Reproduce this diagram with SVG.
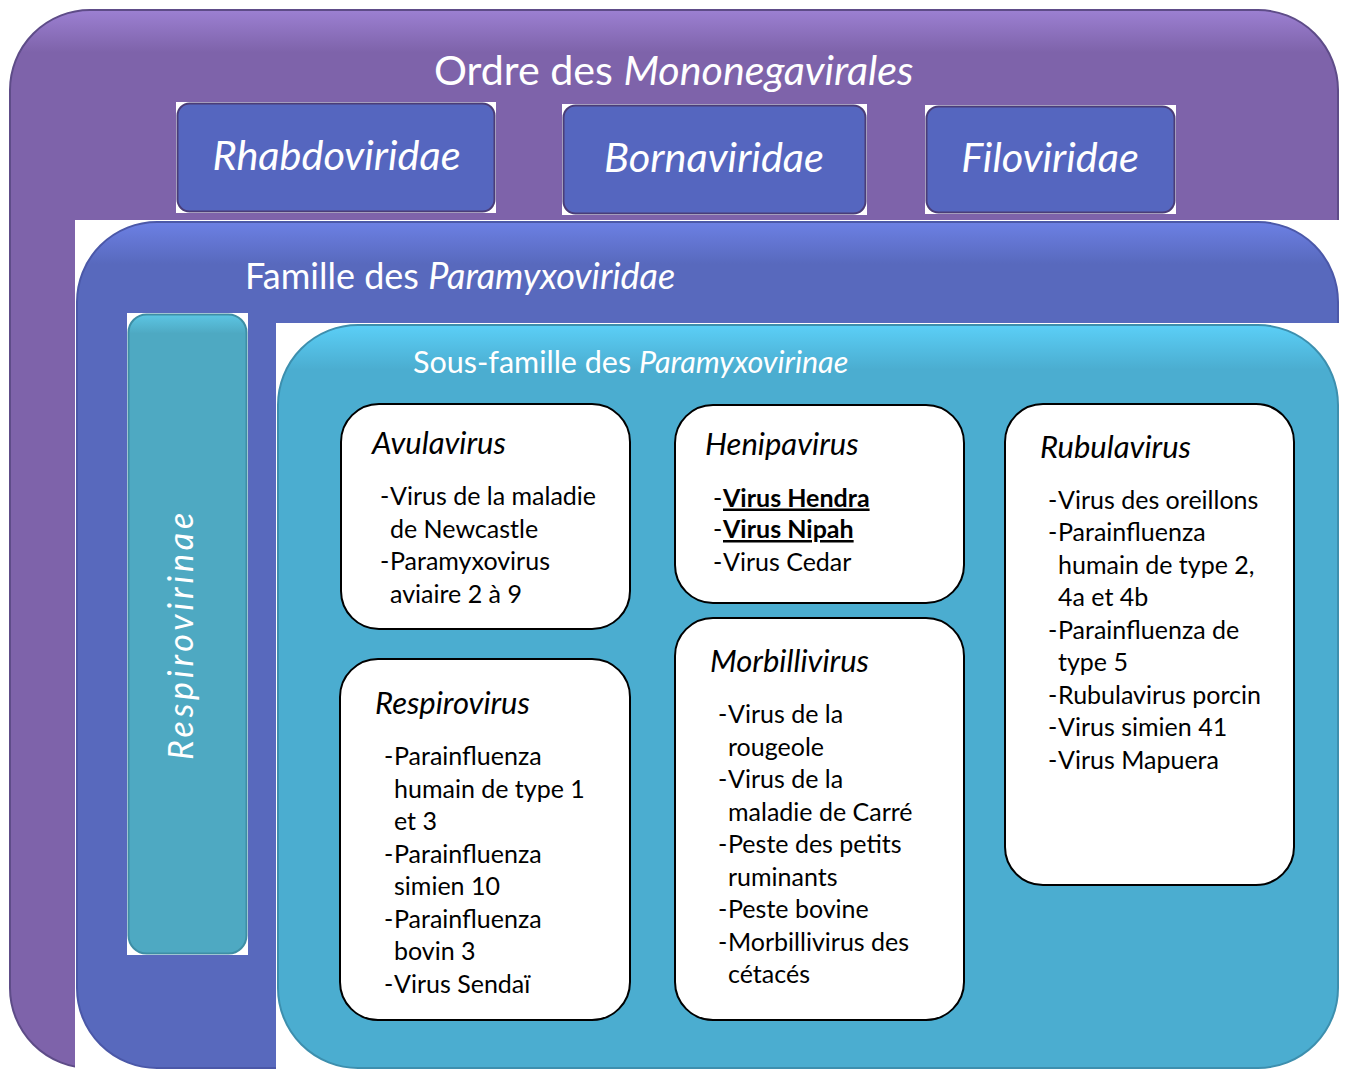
<svg xmlns="http://www.w3.org/2000/svg" width="1348" height="1070" viewBox="0 0 1348 1070">
<style>
text{font-family:Lato,"Liberation Sans",sans-serif}
.w{fill:#ffffff}
.k{fill:#000000}
.it{font-style:italic}
.h1{font-size:41.2px}
.h2{font-size:41.5px;font-style:italic}
.fam{font-size:36px}
.sub{font-size:30.5px}
.gen{font-size:31px;font-style:italic}
.body{font-size:25px}
.box{fill:#ffffff;stroke:#000000;stroke-width:2}
.hdr{fill:#5566BF;stroke:#4A3D78;stroke-width:2}
.bg{fill:#ffffff}
.u{font-weight:bold;text-decoration:underline}
</style>
<defs>
<linearGradient id="gP" x1="0" y1="0" x2="0" y2="1">
<stop offset="0" stop-color="#9C80D2"/><stop offset="0.04" stop-color="#7E63AA"/><stop offset="1" stop-color="#7E63AA"/>
</linearGradient>
<linearGradient id="gB" x1="0" y1="0" x2="0" y2="1">
<stop offset="0" stop-color="#6C80E4"/><stop offset="0.05" stop-color="#5869BD"/><stop offset="1" stop-color="#5869BD"/>
</linearGradient>
<linearGradient id="gT" x1="0" y1="0" x2="0" y2="1">
<stop offset="0" stop-color="#5BCFF7"/><stop offset="0.06" stop-color="#4BADD0"/><stop offset="1" stop-color="#4BADD0"/>
</linearGradient>
<linearGradient id="gR" x1="0" y1="0" x2="0" y2="1">
<stop offset="0" stop-color="#5CC6E4"/><stop offset="0.03" stop-color="#4EA9C2"/><stop offset="1" stop-color="#4EA9C2"/>
</linearGradient>
</defs>
<rect width="1348" height="1070" fill="#ffffff"/>

<g id="order">
<rect x="10" y="10" width="1328" height="1058" rx="80" fill="url(#gP)" stroke="#5E4C88" stroke-width="2"/>
<text class="w h1" x="434" y="85">Ordre des <tspan class="it">Mononegavirales</tspan></text>
</g>

<g id="rhabdoviridae">
<rect class="bg" x="176" y="102" width="320" height="111"/>
<rect class="hdr" x="177.5" y="103.5" width="317" height="108" rx="12"/>
<text class="w h2" x="336.5" y="170" text-anchor="middle">Rhabdoviridae</text>
</g>
<g id="bornaviridae">
<rect class="bg" x="562" y="104" width="305" height="111"/>
<rect class="hdr" x="563.5" y="105.5" width="302" height="108" rx="12"/>
<text class="w h2" x="714" y="172" text-anchor="middle">Bornaviridae</text>
</g>
<g id="filoviridae">
<rect class="bg" x="925" y="105" width="251" height="109"/>
<rect class="hdr" x="926.5" y="106.5" width="248" height="106" rx="12"/>
<text class="w h2" x="1050" y="172" text-anchor="middle">Filoviridae</text>
</g>

<g id="family">
<rect class="bg" x="75" y="220" width="1273" height="850"/>
<rect x="77" y="222" width="1261" height="846" rx="80" fill="url(#gB)" stroke="#4B58A8" stroke-width="2"/>
<text class="w fam" x="245" y="289">Famille des <tspan class="it">Paramyxoviridae</tspan></text>
</g>

<g id="respirovirinae">
<rect class="bg" x="127" y="313" width="121" height="642"/>
<rect x="128.5" y="314.5" width="118" height="639" rx="18" fill="url(#gR)" stroke="#3E8EA5" stroke-width="2"/>
<text class="w it" font-size="34" letter-spacing="3.8" transform="translate(193,760) rotate(-90)">Respirovirinae</text>
</g>

<g id="subfamily">
<rect class="bg" x="276" y="323" width="1072" height="747"/>
<rect x="278" y="325" width="1060" height="743" rx="80" fill="url(#gT)" stroke="#3D8FAE" stroke-width="2"/>
<text class="w sub" x="413" y="373">Sous-famille des <tspan class="it">Paramyxovirinae</tspan></text>
</g>

<g id="avulavirus">
<rect class="box" x="341" y="404" width="289" height="225" rx="38"/>
<text class="k gen" x="372" y="454">Avulavirus</text>
<text class="k body">
<tspan x="380" y="505">-</tspan><tspan x="390" y="505">Virus de la maladie</tspan>
<tspan x="390" y="537.5">de Newcastle</tspan>
<tspan x="380" y="570">-</tspan><tspan x="390" y="570">Paramyxovirus</tspan>
<tspan x="390" y="602.5">aviaire 2 à 9</tspan>
</text>
</g>

<g id="henipavirus">
<rect class="box" x="675" y="405" width="289" height="198" rx="38"/>
<text class="k gen" x="705" y="455">Henipavirus</text>
<text class="k body">
<tspan x="713" y="506.5">-</tspan><tspan class="u" x="723" y="506.5">Virus Hendra</tspan>
<tspan x="713" y="538">-</tspan><tspan class="u" x="723" y="538">Virus Nipah</tspan>
<tspan x="713" y="570.5">-</tspan><tspan x="723" y="570.5">Virus Cedar</tspan>
</text>
</g>

<g id="rubulavirus">
<rect class="box" x="1005" y="404" width="289" height="481" rx="38"/>
<text class="k gen" x="1040" y="458">Rubulavirus</text>
<text class="k body">
<tspan x="1048" y="508.5">-</tspan><tspan x="1058" y="508.5">Virus des oreillons</tspan>
<tspan x="1048" y="541">-</tspan><tspan x="1058" y="541">Parainfluenza</tspan>
<tspan x="1058" y="573.5">humain de type 2,</tspan>
<tspan x="1058" y="606">4a et 4b</tspan>
<tspan x="1048" y="638.5">-</tspan><tspan x="1058" y="638.5">Parainfluenza de</tspan>
<tspan x="1058" y="671">type 5</tspan>
<tspan x="1048" y="703.5">-</tspan><tspan x="1058" y="703.5">Rubulavirus porcin</tspan>
<tspan x="1048" y="736">-</tspan><tspan x="1058" y="736">Virus simien 41</tspan>
<tspan x="1048" y="768.5">-</tspan><tspan x="1058" y="768.5">Virus Mapuera</tspan>
</text>
</g>

<g id="respirovirus">
<rect class="box" x="340" y="659" width="290" height="361" rx="38"/>
<text class="k gen" x="375" y="714">Respirovirus</text>
<text class="k body">
<tspan x="384" y="765">-</tspan><tspan x="394" y="765">Parainfluenza</tspan>
<tspan x="394" y="797.5">humain de type 1</tspan>
<tspan x="394" y="830">et 3</tspan>
<tspan x="384" y="862.5">-</tspan><tspan x="394" y="862.5">Parainfluenza</tspan>
<tspan x="394" y="895">simien 10</tspan>
<tspan x="384" y="927.5">-</tspan><tspan x="394" y="927.5">Parainfluenza</tspan>
<tspan x="394" y="960">bovin 3</tspan>
<tspan x="384" y="992.5">-</tspan><tspan x="394" y="992.5">Virus Sendaï</tspan>
</text>
</g>

<g id="morbillivirus">
<rect class="box" x="675" y="618" width="289" height="402" rx="38"/>
<text class="k gen" x="710" y="672">Morbillivirus</text>
<text class="k body">
<tspan x="718" y="723">-</tspan><tspan x="728" y="723">Virus de la</tspan>
<tspan x="728" y="755.5">rougeole</tspan>
<tspan x="718" y="788">-</tspan><tspan x="728" y="788">Virus de la</tspan>
<tspan x="728" y="820.5">maladie de Carré</tspan>
<tspan x="718" y="853">-</tspan><tspan x="728" y="853">Peste des petits</tspan>
<tspan x="728" y="885.5">ruminants</tspan>
<tspan x="718" y="918">-</tspan><tspan x="728" y="918">Peste bovine</tspan>
<tspan x="718" y="950.5">-</tspan><tspan x="728" y="950.5">Morbillivirus des</tspan>
<tspan x="728" y="983">cétacés</tspan>
</text>
</g>

<g id="connectors"></g>
</svg>
